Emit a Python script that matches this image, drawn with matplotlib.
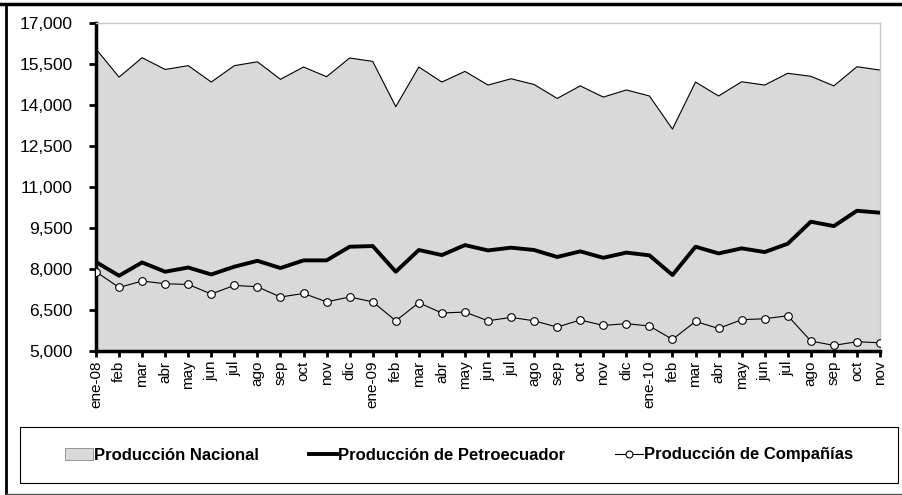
import matplotlib
matplotlib.use("Agg")
import matplotlib.pyplot as plt
from matplotlib.patches import Patch
from matplotlib.lines import Line2D
from matplotlib.ticker import FuncFormatter

plt.rcParams['font.family'] = ['Liberation Sans', 'DejaVu Sans']

# meses ene-08 .. nov-10
meses = ['ene-08', 'feb', 'mar', 'abr', 'may', 'jun', 'jul', 'ago', 'sep', 'oct', 'nov', 'dic',
         'ene-09', 'feb', 'mar', 'abr', 'may', 'jun', 'jul', 'ago', 'sep', 'oct', 'nov', 'dic',
         'ene-10', 'feb', 'mar', 'abr', 'may', 'jun', 'jul', 'ago', 'sep', 'oct', 'nov']

nacional = [16050, 15020, 15730, 15300, 15440, 14840, 15440, 15580, 14940, 15390, 15035, 15720,
            15595, 13940, 15390, 14840, 15230, 14730, 14960, 14750, 14240, 14700, 14290, 14550,
            14330, 13120, 14840, 14330, 14850, 14730, 15160, 15050, 14700, 15400, 15280]

petroecuador = [8255, 7755, 8240, 7900, 8055, 7800, 8085, 8300, 8035, 8315, 8315, 8815,
                8840, 7900, 8695, 8510, 8875, 8680, 8780, 8695, 8440, 8645, 8410, 8600,
                8500, 7780, 8815, 8570, 8755, 8620, 8925, 9730, 9570, 10130, 10060]

companias = [7900, 7325, 7560, 7460, 7435, 7085, 7400, 7350, 6975, 7105, 6800, 6975,
             6800, 6105, 6765, 6390, 6425, 6105, 6230, 6105, 5875, 6135, 5935, 6000,
             5915, 5425, 6080, 5825, 6145, 6180, 6290, 5365, 5205, 5340, 5300]

ticks_y = [5000, 6500, 8000, 9500, 11000, 12500, 14000, 15500, 17000]

fig = plt.figure(figsize=(9.03, 4.95), dpi=100)
ax = fig.add_axes([96/903, 1-351/495, 784/903, 328/495])

x = list(range(len(meses)))
ax.fill_between(x, 0, nacional, facecolor='#d9d9d9', edgecolor='none', zorder=1)
ax.plot(x, nacional, color='black', lw=0.8, zorder=2)
ax.plot(x, petroecuador, color='black', lw=2.8, zorder=3)
ax.plot(x, companias, color='black', lw=0.8, marker='o', markersize=5.5,
        markerfacecolor='white', markeredgecolor='black', markeredgewidth=0.8, zorder=4)

ax.set_xlim(0, len(meses)-1)
ax.set_ylim(5000, 17000)
ax.set_yticks(ticks_y)
ax.yaxis.set_major_formatter(FuncFormatter(lambda v, p: '{:,.0f}'.format(v)))
ax.set_xticks(x)
ax.set_xticklabels(meses, rotation=90, fontsize=11)
ax.tick_params(axis='y', labelsize=12.5, length=5, width=2, direction='out', pad=12)
ax.tick_params(axis='x', length=4, width=2, direction='out', pad=3)

for s in ['left', 'bottom']:
    ax.spines[s].set_linewidth(2.5)
    ax.spines[s].set_color('black')
for s in ['top', 'right']:
    ax.spines[s].set_linewidth(1)
    ax.spines[s].set_color('#c8c8c8')

# marco exterior
fig.add_artist(Line2D([0, 1], [1-3.5/495, 1-3.5/495], color='black', lw=2.5, transform=fig.transFigure))
fig.add_artist(Line2D([6.5/903, 6.5/903], [1-3.5/495, 0], color='black', lw=2, transform=fig.transFigure))
fig.add_artist(Line2D([6.5/903, 1], [1.5/495, 1.5/495], color='#555555', lw=1, transform=fig.transFigure))

handles = [Patch(facecolor='#d9d9d9', edgecolor='#888888', lw=0.6),
           Line2D([], [], color='black', lw=2.8),
           Line2D([], [], color='black', lw=0.8, marker='o', markersize=5,
                  markerfacecolor='white', markeredgecolor='black', markeredgewidth=0.8)]
labels = ['Producción Nacional', 'Producción de Petroecuador', 'Producción de Compañías']
leg = fig.legend(handles, labels, loc='center', ncol=3,
                 bbox_to_anchor=(20/903, 1-483/495, 878/903, 56/495),
                 bbox_transform=fig.transFigure, frameon=False,
                 prop={'weight': 'bold', 'size': 12}, handlelength=1.7,
                 handletextpad=0.05, columnspacing=3.0, borderaxespad=0)

# recuadro de la leyenda a todo lo ancho
fig.add_artist(plt.Rectangle((20/903, 1-483/495), 878/903, 56/495, fill=False,
                             edgecolor='black', lw=0.8, transform=fig.transFigure))

fig.savefig('out.png', dpi=100)
